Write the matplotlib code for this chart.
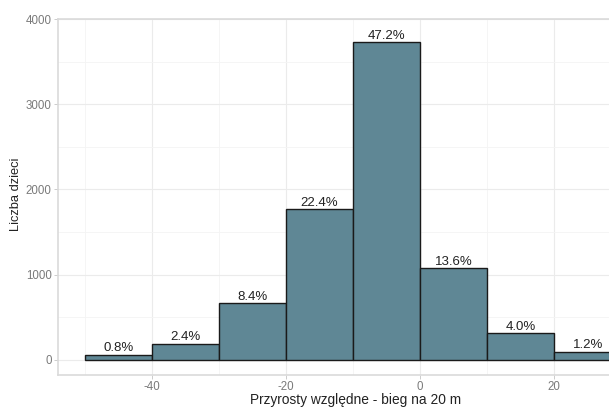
import matplotlib
matplotlib.use("Agg")
import matplotlib.pyplot as plt
import numpy as np

plt.rcParams['font.family'] = ['Liberation Sans', 'DejaVu Sans']
plt.rcParams['axes.unicode_minus'] = False

bin_edges = [-50, -40, -30, -20, -10, 0, 10, 20, 30]
counts = [63, 190, 665, 1770, 3730, 1075, 316, 95]
x_ticks = [-40, -20, 0, 20]
y_ticks = [0, 1000, 2000, 3000, 4000]
x_label = "Przyrosty względne - bieg na 20 m"
y_label = "Liczba dzieci"

W, H = 609, 408
fig = plt.figure(figsize=(W / 100, H / 100), dpi=100)
left_px, right_px, top_px, bottom_px = 58, 648, 19, 375
ax = fig.add_axes([left_px / W, 1 - bottom_px / H,
                   (right_px - left_px) / W, (bottom_px - top_px) / H])

edges = np.array(bin_edges, dtype=float)
widths = np.diff(edges)
total = sum(counts)
ax.bar(edges[:-1], counts, width=widths, align='edge', color='#5f8795',
       edgecolor='#1a1a1a', linewidth=1.0, zorder=3)
for x0, w, c in zip(edges[:-1], widths, counts):
    ax.annotate(f"{100 * c / total:.1f}%", (x0 + w / 2, c), xytext=(0, 0.3),
                textcoords='offset points', ha='center', va='bottom',
                fontsize=9.5, color='#222222', zorder=4)

ax.set_xlim(-54, 34)
ax.set_ylim(-176, 4000)
ax.set_xticks(x_ticks)
ax.set_yticks(y_ticks)
ax.set_xticks([-50, -30, -10, 10, 30], minor=True)
ax.set_yticks([500, 1500, 2500, 3500], minor=True)
ax.grid(True, which='major', color='#ebebeb', linewidth=0.8, zorder=0)
ax.grid(True, which='minor', color='#f4f4f4', linewidth=0.6, zorder=0)
ax.set_axisbelow(True)
for s in ax.spines.values():
    s.set_color('#dadada')
    s.set_linewidth(1.2)
ax.tick_params(which='major', length=3, width=0.7, color='#cccccc',
               labelcolor='#7a7a7a', labelsize=8.3, pad=1.5)
ax.tick_params(which='minor', length=0)

fig.text(356 / W, 1 - 400 / H, x_label, fontsize=9.9, color='#222222',
         ha='center', va='center')
fig.text(16 / W, 1 - 194 / H, y_label, fontsize=9.3, color='#222222',
         ha='center', va='center', rotation=90)

fig.savefig("out.png", dpi=100)
